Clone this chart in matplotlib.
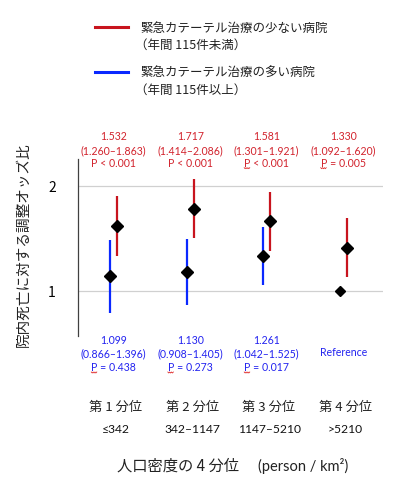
import matplotlib
matplotlib.use("Agg")
import matplotlib.pyplot as plt
import matplotlib.transforms as mtransforms
import numpy as np

plt.rcParams['font.family'] = ['Noto Sans CJK JP', 'DejaVu Sans']

categories = ["第 1 分位", "第 2 分位", "第 3 分位", "第 4 分位"]
ranges = ["≤342", "342–1147", "1147–5210", ">5210"]

# Hospitals with few emergency catheter treatments (<115/year)
red_or = [1.532, 1.717, 1.581, 1.330]
red_lo = [1.260, 1.414, 1.301, 1.092]
red_hi = [1.863, 2.086, 1.921, 1.620]
red_p = ["P < 0.001", "P < 0.001", "P < 0.001", "P = 0.005"]
red_squiggle = [False, False, True, True]

# Hospitals with many emergency catheter treatments (>=115/year)
blue_or = [1.099, 1.130, 1.261, 1.000]
blue_lo = [0.866, 0.908, 1.042, None]
blue_hi = [1.396, 1.405, 1.525, None]
blue_p = ["P = 0.438", "P = 0.273", "P = 0.017", None]

RED = "#C8141E"
BLUE = "#0A28FF"
RED_T = "#D2232D"
BLUE_T = "#2323F0"

fig = plt.figure(figsize=(3.98, 4.85), dpi=100)
ax = fig.add_axes([78/398, 1-337/485, (383-78)/398, (337-160)/485])
ax.set_yscale('log', base=2)
ax.set_ylim(0.742, 2.386)
ax.set_xlim(-0.467, 3.52)

off = 0.047
for i in range(4):
    ax.plot([i+off, i+off], [red_lo[i], red_hi[i]], color=RED, lw=1.6, zorder=2, solid_capstyle='butt')
    ax.plot(i+off, red_or[i], marker='D', ms=6.2, color='black', zorder=3)
    if blue_lo[i] is not None:
        ax.plot([i-off, i-off], [blue_lo[i], blue_hi[i]], color=BLUE, lw=1.6, zorder=2, solid_capstyle='butt')
    ax.plot(i-off, blue_or[i], marker='D', ms=6.2 if blue_lo[i] is not None else 5.2, color='black', zorder=3)

ax.set_yticks([1, 2])
ax.set_yticklabels(["1", "2"], fontsize=10)
ax.minorticks_off()
ax.tick_params(axis='y', length=0, pad=16)
ax.tick_params(axis='x', length=0, labelbottom=False)
ax.set_xticks([])
ax.yaxis.grid(True, color='#D0D0D0', lw=0.9)
ax.set_axisbelow(True)
for s in ['top', 'right', 'bottom']:
    ax.spines[s].set_visible(False)
ax.spines['left'].set_color('#404040')
ax.spines['left'].set_linewidth(0.9)

trans = mtransforms.blended_transform_factory(ax.transData, fig.transFigure)
def fy(py):
    return 1 - py/485

numfont = ['Lato', 'DejaVu Sans']
FS = 7.6
squiggle_texts = []
for i in range(4):
    ax.text(i, fy(136.7), f"{red_or[i]:.3f}", transform=trans, ha='center', va='center',
            color=RED_T, fontsize=FS, family=numfont)
    ax.text(i, fy(150.3), f"({red_lo[i]:.3f}–{red_hi[i]:.3f})", transform=trans, ha='center', va='center',
            color=RED_T, fontsize=FS, family=numfont)
    t = ax.text(i, fy(163.7), red_p[i], transform=trans, ha='center', va='center',
                color=RED_T, fontsize=FS, family=numfont)
    if red_squiggle[i]:
        squiggle_texts.append(t)
    if blue_lo[i] is not None:
        ax.text(i, fy(341), f"{blue_or[i]:.3f}", transform=trans, ha='center', va='center',
                color=BLUE_T, fontsize=FS, family=numfont)
        ax.text(i, fy(354), f"({blue_lo[i]:.3f}–{blue_hi[i]:.3f})", transform=trans, ha='center', va='center',
                color=BLUE_T, fontsize=FS, family=numfont)
        t = ax.text(i, fy(368), blue_p[i], transform=trans, ha='center', va='center',
                    color=BLUE_T, fontsize=FS, family=numfont)
        squiggle_texts.append(t)
    else:
        ax.text(i, fy(353), "Reference", transform=trans, ha='center', va='center',
                color=BLUE_T, fontsize=FS, family=numfont)
    ax.text(i + 0.03, fy(407.5), categories[i], transform=trans, ha='center', va='center',
            color='#222222', fontsize=9.5)
    ax.text(i + 0.03, fy(430), ranges[i], transform=trans, ha='center', va='center',
            color='#111111', fontsize=8.7, family=numfont)

# y label
fig.text(24/398, fy(245), "院内死亡に対する調整オッズ比", rotation=90, ha='center', va='center',
         fontsize=10.5, color='#222222')

# x label
fig.text(117/398, fy(466.5), "人口密度の 4 分位", ha='left', va='center', fontsize=11, color='#222222')
fig.text(258/398, fy(466.5), "(person / km²)", ha='left', va='center', fontsize=10.5,
         color='#222222', family=numfont)

# legend
fig.add_artist(plt.Line2D([95/398, 128/398], [fy(27.7), fy(27.7)], color=RED, lw=2.2))
fig.add_artist(plt.Line2D([95/398, 128/398], [fy(73), fy(73)], color=BLUE, lw=2.2))
fig.text(140/398, fy(28), "緊急カテーテル治療の少ない病院", ha='left', va='center', fontsize=9, color='#222222')
fig.text(135/398, fy(45), "（年間 115件未満）", ha='left', va='center', fontsize=9, color='#222222')
fig.text(140/398, fy(73), "緊急カテーテル治療の多い病院", ha='left', va='center', fontsize=9, color='#222222')
fig.text(135/398, fy(90), "（年間 115件以上）", ha='left', va='center', fontsize=9, color='#222222')

# spell-check style squiggles under the "P"
fig.canvas.draw()
renderer = fig.canvas.get_renderer()
for t in squiggle_texts:
    bb = t.get_window_extent(renderer)
    x0 = bb.x0
    xs = np.linspace(x0, x0 + 5.5, 7)
    ys = bb.y0 + 0.5 + np.array([0, -1, 0, -1, 0, -1, 0]) * 1.0
    fig.add_artist(plt.Line2D(xs / 398, ys / 485, color='#E03030', lw=0.6))

fig.savefig("out.png", dpi=100)
